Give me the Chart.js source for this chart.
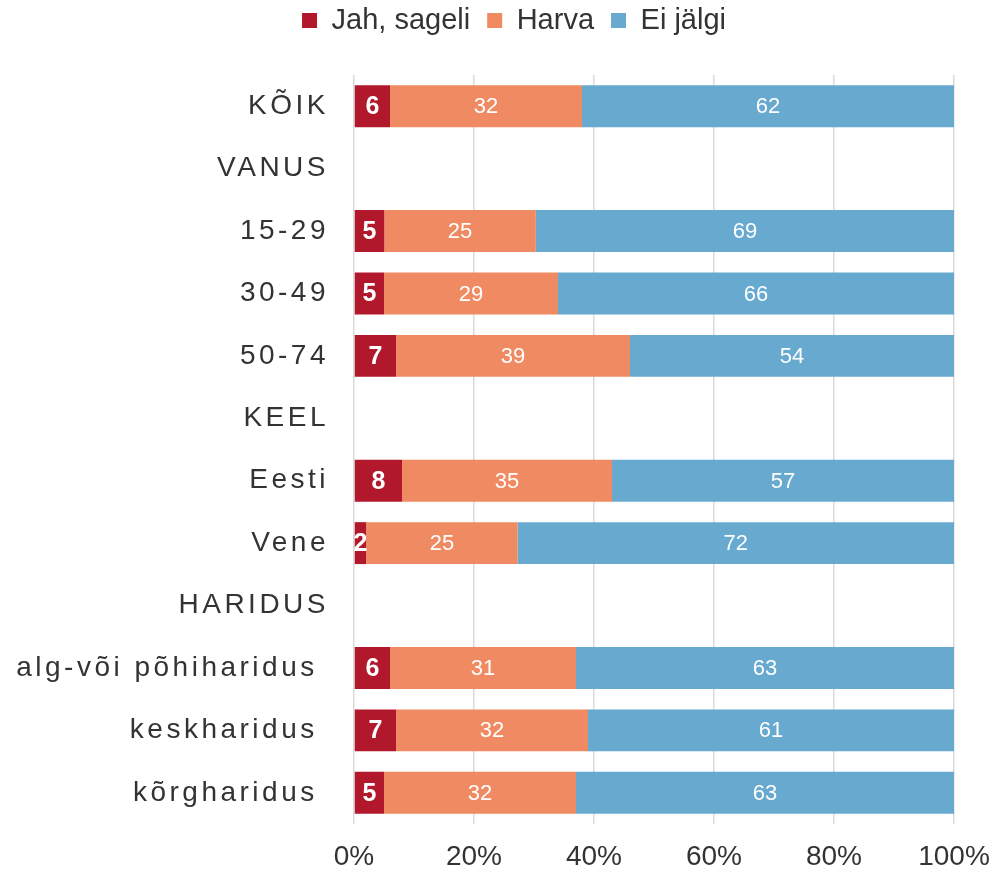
<!DOCTYPE html>
<html>
<head>
<meta charset="utf-8">
<script src="https://cdn.jsdelivr.net/npm/chart.js@4"></script>
<style>
  html, body { margin: 0; padding: 0; background: #fff; }
</style>
</head>
<body>
<canvas id="chart" width="995" height="872"></canvas>
<script>
// categories (empty rows are group headings)
const categories = ['KÕIK', 'VANUS', '15-29', '30-49', '50-74', 'KEEL', 'Eesti', 'Vene', 'HARIDUS', 'alg-või põhiharidus ', 'keskharidus ', 'kõrgharidus '];
const seriesNames = ['Jah, sageli', 'Harva', 'Ei jälgi'];
const oftenValues = [6, null, 5, 5, 7, null, 8, 2, null, 6, 7, 5];
const rarelyValues = [32, null, 25, 29, 39, null, 35, 25, null, 31, 32, 32];
const neverValues = [62, null, 69, 66, 54, null, 57, 72, null, 63, 61, 63];
const xTicks = [0, 20, 40, 60, 80, 100];

const seriesColors = ['#b2182b', '#ef8a62', '#67a9cf'];
const rawSeries = [oftenValues, rarelyValues, neverValues];
const FONT = '"Liberation Sans", Arial, sans-serif';

Chart.defaults.font.family = FONT;

// 100% stacked: each row is scaled to its own total
function shares(values) {
  return values.map((v, i) => {
    if (v == null) return null;
    const total = oftenValues[i] + rarelyValues[i] + neverValues[i];
    return (v / total) * 100;
  });
}

// push the plot down from the legend
const legendMargin = {
  id: 'legendMargin',
  beforeInit(chart) {
    const fit = chart.legend.fit;
    chart.legend.fit = function () {
      fit.bind(chart.legend)();
      this.height += 30;
    };
  },
};

// numbers inside the bars
const barLabels = {
  id: 'barLabels',
  afterDatasetsDraw(chart) {
    const ctx = chart.ctx;
    ctx.save();
    ctx.textAlign = 'center';
    ctx.textBaseline = 'middle';
    ctx.fillStyle = '#fff';
    rawSeries.forEach((values, i) => {
      const meta = chart.getDatasetMeta(i);
      ctx.font = i === 0 ? 'bold 25px ' + FONT : '22px ' + FONT;
      meta.data.forEach((bar, j) => {
        if (values[j] == null) return;
        const p = bar.getProps(['x', 'y', 'base'], true);
        ctx.fillText(String(values[j]), (p.x + p.base) / 2, p.y + 1);
      });
    });
    ctx.restore();
  },
};

// category labels with wide letter spacing
const spacedYLabels = {
  id: 'spacedYLabels',
  afterDraw(chart) {
    const ctx = chart.ctx;
    const scale = chart.scales.y;
    ctx.save();
    ctx.font = '28px ' + FONT;
    ctx.letterSpacing = '3.5px';
    ctx.textAlign = 'right';
    ctx.textBaseline = 'middle';
    ctx.fillStyle = '#333';
    categories.forEach((label, i) => {
      ctx.fillText(label, scale.right - 25, scale.getPixelForTick(i));
    });
    ctx.restore();
  },
};

const chart = new Chart(document.getElementById('chart'), {
  type: 'bar',
  data: {
    labels: categories,
    datasets: seriesNames.map((name, i) => ({
      label: name,
      data: shares(rawSeries[i]),
      backgroundColor: seriesColors[i],
      borderWidth: 0,
      barPercentage: 0.672,
      categoryPercentage: 1,
    })),
  },
  options: {
    indexAxis: 'y',
    responsive: false,
    animation: false,
    layout: { padding: { top: -11, right: 41, left: 74, bottom: 0 } },
    scales: {
      x: {
        stacked: true,
        min: 0,
        max: 100,
        afterBuildTicks(scale) {
          scale.ticks = xTicks.map((v) => ({ value: v }));
        },
        ticks: {
          callback: (v) => v + '%',
          font: { size: 28, lineHeight: 1 },
          color: '#333',
          padding: 1,
        },
        grid: { color: '#d9d9d9', lineWidth: 1.5, drawTicks: true, tickLength: 18, tickColor: 'transparent' },
        border: { display: false },
      },
      y: {
        stacked: true,
        grid: { display: false },
        border: { display: false },
        ticks: { display: false },
        afterFit(scale) {
          scale.width = 280;
        },
      },
    },
    plugins: {
      legend: {
        position: 'top',
        labels: {
          font: { size: 29 },
          color: '#333',
          boxWidth: 15,
          boxHeight: 15,
          padding: 17,
        },
      },
      tooltip: { enabled: false },
    },
  },
  plugins: [legendMargin, barLabels, spacedYLabels],
});
</script>
</body>
</html>
